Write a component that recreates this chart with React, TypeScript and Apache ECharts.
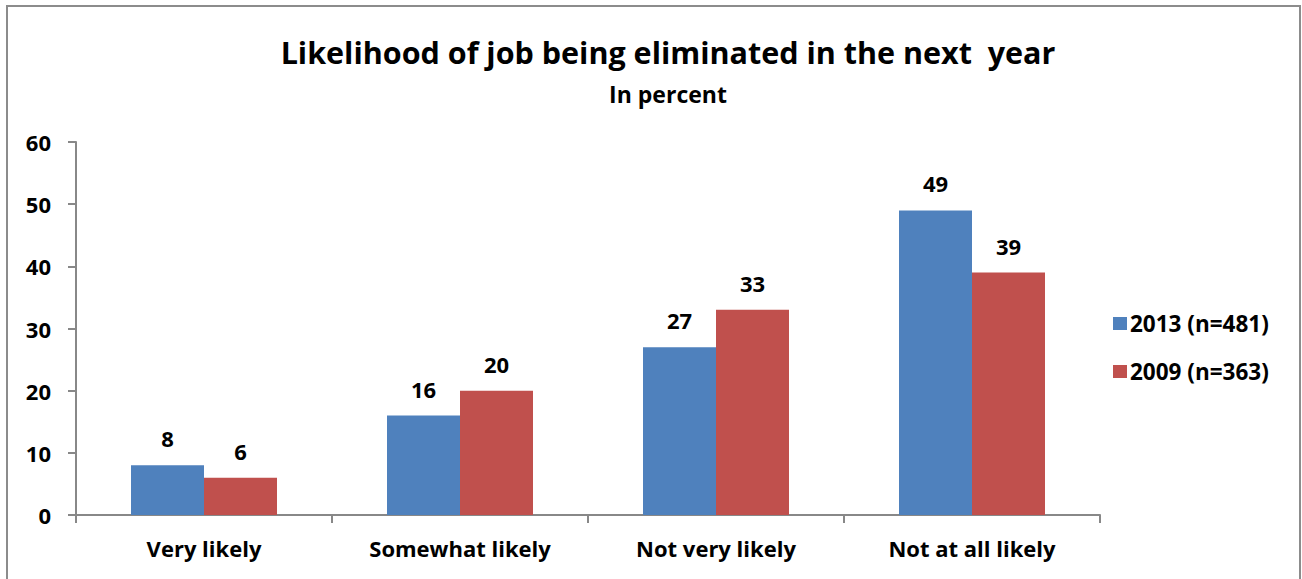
import React, { useEffect, useRef } from "react";
import * as echarts from "echarts";

const categories = ["Very likely", "Somewhat likely", "Not very likely", "Not at all likely"];
const series2013 = [8, 16, 27, 49];
const series2009 = [6, 20, 33, 39];
const seriesNames = ["2013 (n=481)", "2009 (n=363)"];
const titleText = "Likelihood of job being eliminated in the next  year";
const subtitleText = "In percent";

const FONT = "'Open Sans', 'Noto Sans', sans-serif";

export default function App() {
  const ref = useRef<HTMLDivElement>(null);
  useEffect(() => {
    if (!ref.current) return;
    const chart = echarts.init(ref.current, null, { renderer: "svg" });
    const labelStyle = {
      show: true,
      position: "top" as const,
      distance: 16,
      fontFamily: FONT,
      fontWeight: "bold" as const,
      fontSize: 22,
      color: "#000",
    };
    chart.setOption({
      animation: false,
      backgroundColor: "#fff",
      title: {
        text: titleText,
        subtext: subtitleText,
        left: 663,
        textAlign: "center",
        top: 31,
        itemGap: 15,
        textStyle: { fontFamily: FONT, fontWeight: "bold", fontSize: 30.5, color: "#000" },
        subtextStyle: { fontFamily: FONT, fontWeight: "bold", fontSize: 23, color: "#000" },
      },
      legend: {
        orient: "vertical",
        left: 1108,
        top: 307,
        itemWidth: 14,
        itemHeight: 13,
        itemGap: 25,
        icon: "rect",
        textStyle: { fontFamily: FONT, fontWeight: "bold", fontSize: 22.5, color: "#000", padding: [0, 0, 0, -2] },
        data: seriesNames,
      },
      grid: { left: 76, right: 202, top: 142, bottom: 64, containLabel: false },
      xAxis: {
        type: "category",
        data: categories,
        axisLine: { lineStyle: { color: "#888", width: 2 } },
        axisTick: { show: true, length: 8, lineStyle: { color: "#888", width: 2 } },
        axisLabel: { fontFamily: FONT, fontWeight: "bold", fontSize: 22, color: "#000", margin: 22 },
      },
      yAxis: {
        type: "value",
        min: 0,
        max: 60,
        interval: 10,
        axisLine: { show: true, lineStyle: { color: "#888", width: 2 } },
        axisTick: { show: true, length: 8, lineStyle: { color: "#888", width: 2 } },
        splitLine: { show: false },
        axisLabel: { fontFamily: FONT, fontWeight: "bold", fontSize: 22, color: "#000", margin: 25 },
      },
      graphic: [
        {
          type: "rect",
          shape: { x: 7, y: 6, width: 1293, height: 620 },
          style: { fill: "none", stroke: "#8c8c8c", lineWidth: 2 },
          silent: true,
        },
      ],
      series: [
        {
          name: seriesNames[0],
          type: "bar",
          data: series2013,
          barWidth: 73,
          barGap: "0%",
          itemStyle: { color: "#4F81BD" },
          label: labelStyle,
        },
        {
          name: seriesNames[1],
          type: "bar",
          data: series2009,
          barWidth: 73,
          barGap: "0%",
          itemStyle: { color: "#C0504D" },
          label: labelStyle,
        },
      ],
    });
    return () => chart.dispose();
  }, []);
  return (
    <div
      ref={ref}
      style={{ position: "absolute", left: 0, top: 0, width: 1302, height: 579 }}
    />
  );
}
